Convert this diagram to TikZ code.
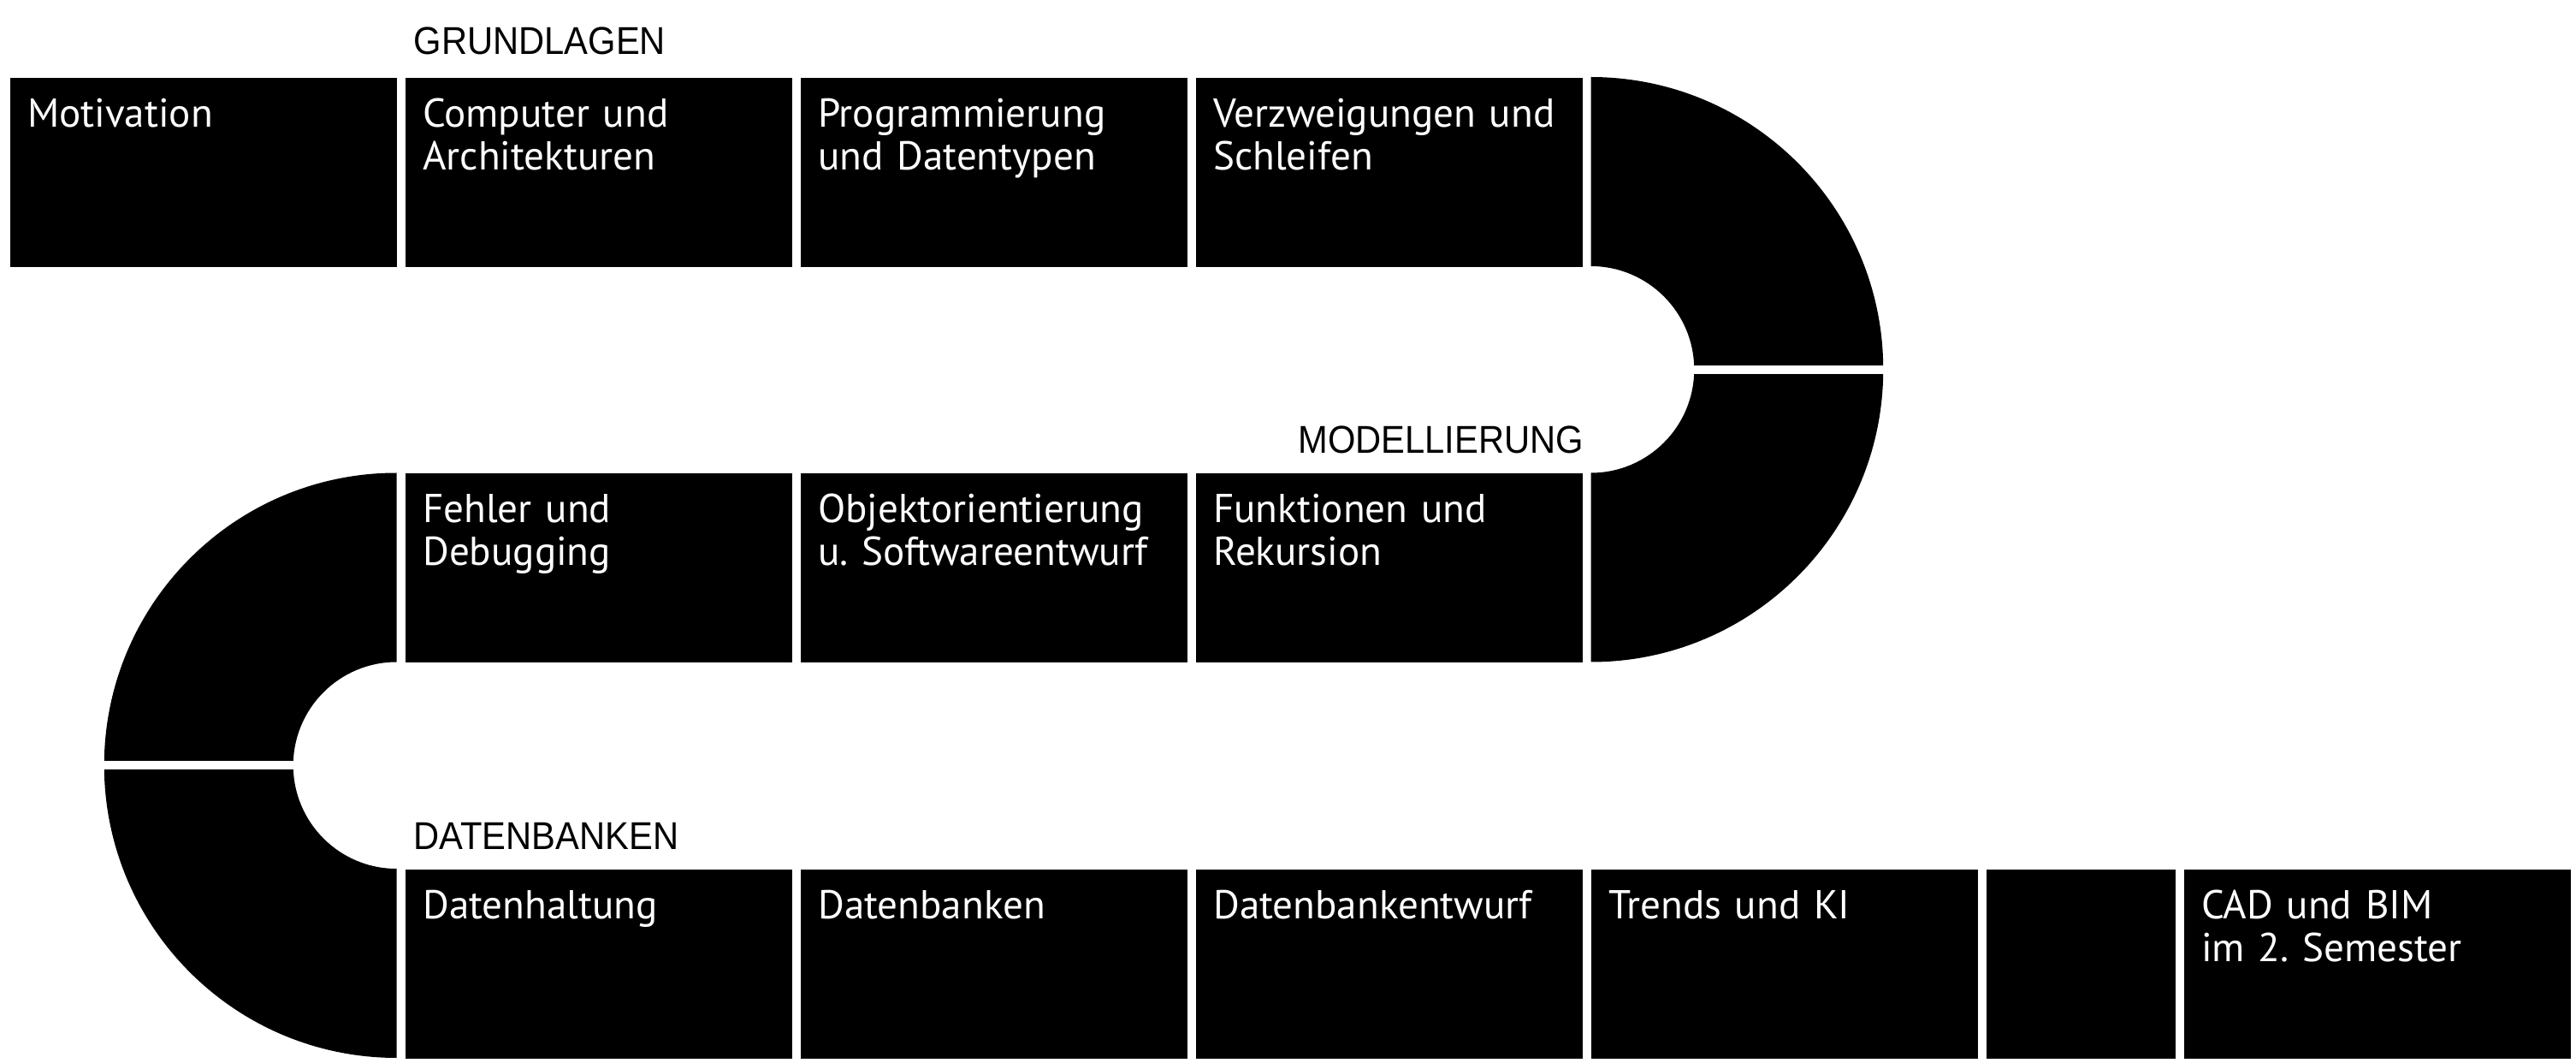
\documentclass[tikz,border=0pt]{standalone}
\usepackage{fontspec}
\setmainfont{PT Sans}
\newfontfamily\headfont{Liberation Sans}[FakeStretch=0.92]
\frenchspacing

\begin{document}
\begin{tikzpicture}[tile/.style={fill=black, draw=none, inner sep=0pt, minimum width=4.52cm, minimum height=2.21cm, anchor=north west},
	tiletext/.style={text=white, inner sep=0pt, anchor=base west, text width=4.3cm, align=left, font=\fontsize{13.4pt}{14.2pt}\selectfont},
	head/.style={inner sep=0pt, anchor=base west, font=\headfont\fontsize{12.9pt}{14pt}\selectfont}]
	\fill[white] (0,0) rectangle (30.11,-12.42);
	% the two half rings
	\fill (18.595,-0.9) arc[start angle=90, end angle=-90, radius=3.4175] -- ++(0,2.21) arc[start angle=-90, end angle=90, radius=1.2075] -- cycle;
	\draw[white, line width=0.1cm] (18.5,-4.3175) -- (22.2,-4.3175);
	\fill (4.635,-5.525) arc[start angle=90, end angle=270, radius=3.4175] -- ++(0,2.21) arc[start angle=270, end angle=90, radius=1.2075] -- cycle;
	\draw[white, line width=0.1cm] (4.7,-8.9425) -- (1.0,-8.9425);
	% row 1
	\foreach \n/\k/\txt in {mot/0/Motivation, comp/1/{Computer und\\Architekturen}, prog/2/{Programmierung\\und Datentypen}, verz/3/{Verzweigungen und\\Schleifen}} {
		\node[tile] (\n) at (0.115+4.62*\k,-0.9) {};
		\node[tiletext] (\n-t) at ([shift={(0.2,-0.585)}]\n.north west) {\txt};
	}
	% row 2
	\foreach \n/\k/\txt in {fehl/1/{Fehler und\\Debugging}, obj/2/{Objektorientierung\\u. Softwareentwurf}, funk/3/{Funktionen und\\Rekursion}} {
		\node[tile] (\n) at (0.115+4.62*\k,-5.525) {};
		\node[tiletext] (\n-t) at ([shift={(0.2,-0.585)}]\n.north west) {\txt};
	}
	% row 3
	\foreach \n/\k/\txt in {halt/1/Datenhaltung, dbank/2/Datenbanken, entw/3/Datenbankentwurf, trend/4/Trends und KI} {
		\node[tile] (\n) at (0.115+4.62*\k,-10.15) {};
		\node[tiletext] (\n-t) at ([shift={(0.2,-0.585)}]\n.north west) {\txt};
	}
	\node[tile, minimum width=2.21cm] (leer) at (23.215,-10.15) {};
	\node[tile] (cad) at (25.525,-10.15) {};
	\node[tiletext] (cad-t) at ([shift={(0.2,-0.585)}]cad.north west) {CAD und BIM\\im 2. Semester};
	% section titles
	\node[head] (grund) at (4.83,-0.633) {GRUNDLAGEN};
	\node[head, anchor=base east] (model) at (18.517,-5.30) {MODELLIERUNG};
	\node[head] (daten) at (4.827,-9.92) {DATENBANKEN};
\end{tikzpicture}
\end{document}
